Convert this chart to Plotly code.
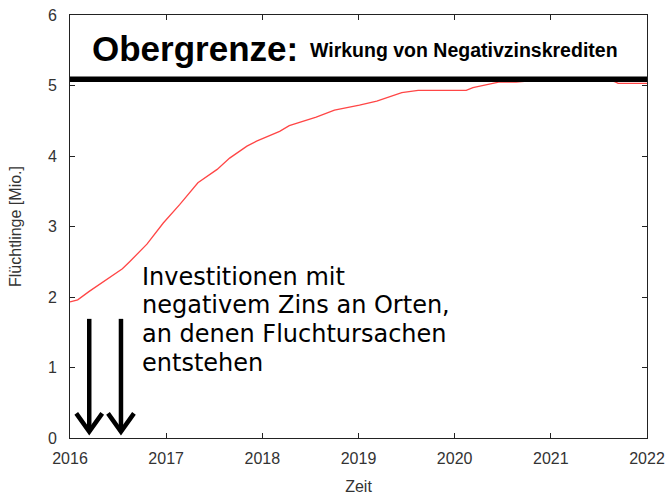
import plotly.graph_objects as go

# Red curve: refugees (millions) over time
years = [2016.0, 2016.08, 2016.2, 2016.35, 2016.545, 2016.62, 2016.80, 2016.97, 2017.14,
         2017.33, 2017.53, 2017.66, 2017.84, 2017.94, 2018.18, 2018.28, 2018.56, 2018.75,
         2019.01, 2019.19, 2019.36, 2019.45, 2019.62, 2019.9, 2020.12, 2020.19, 2020.47, 2020.64,
         2020.9, 2021.3, 2021.6, 2021.67, 2021.70, 2022.0]
refugees = [1.93, 1.96, 2.08, 2.22, 2.40, 2.50, 2.75, 3.05, 3.31,
            3.62, 3.81, 3.97, 4.14, 4.21, 4.35, 4.43, 4.55, 4.65,
            4.72, 4.78, 4.86, 4.90, 4.93, 4.93, 4.93, 4.97, 5.05, 5.05,
            5.08, 5.08, 5.08, 5.05, 5.03, 5.03]

# Upper limit line
limit_x = [2016, 2022]
limit_y = [5.09, 5.09]

# Arrows: x positions, top and tip values
arrow_x = [2016.20, 2016.53]
arrow_top = 1.69
arrow_tip = 0.09
arm_dx = 0.135
arm_dy = 0.26

x_ticks = [2016, 2017, 2018, 2019, 2020, 2021, 2022]
y_ticks = [0, 1, 2, 3, 4, 5, 6]

title_big = "Obergrenze:"
title_small = "Wirkung von Negativzinskrediten"
note_lines = ["Investitionen mit", "negativem Zins an Orten,", "an denen Fluchtursachen", "entstehen"]
note_y = [2.29, 1.88, 1.47, 1.06]

fig = go.Figure()
fig.add_trace(go.Scatter(x=years, y=refugees, mode="lines",
                         line=dict(color="rgb(255,70,70)", width=1.3), hoverinfo="skip"))
fig.add_trace(go.Scatter(x=limit_x, y=limit_y, mode="lines",
                         line=dict(color="black", width=5.5), hoverinfo="skip"))

ax, ay = [], []
for xv in arrow_x:
    ax += [xv, xv, None, xv - arm_dx, xv, xv + arm_dx, None]
    ay += [arrow_top, arrow_tip, None, arrow_tip + arm_dy, arrow_tip, arrow_tip + arm_dy, None]
fig.add_trace(go.Scatter(x=ax, y=ay, mode="lines",
                         line=dict(color="black", width=4.5), hoverinfo="skip"))

fig.add_annotation(x=2016.21, y=5.52, xref="x", yref="y", text=title_big, showarrow=False,
                   xanchor="left", yanchor="middle",
                   font=dict(family="Liberation Sans", size=35, color="black", weight="bold"))
fig.add_annotation(x=2018.48, y=5.5, xref="x", yref="y", text=title_small, showarrow=False,
                   xanchor="left", yanchor="middle",
                   font=dict(family="Liberation Sans", size=19.5, color="black", weight="bold"))

for txt, yv in zip(note_lines, note_y):
    fig.add_annotation(x=2016.73, y=yv, xref="x", yref="y", text=txt, showarrow=False,
                       xanchor="left", yanchor="middle",
                       font=dict(family="DejaVu Sans", size=24, color="black"))

axis_common = dict(showline=True, linecolor="#222", linewidth=1, mirror="ticks",
                   ticks="inside", ticklen=5, tickcolor="#222", showgrid=False, zeroline=False,
                   automargin=False, ticklabeloverflow="allow",
                   tickfont=dict(family="Liberation Sans", size=16, color="#333"))

fig.update_xaxes(range=[2016, 2022], tickvals=x_ticks, ticktext=[str(v) for v in x_ticks],
                 title=dict(text="Zeit", font=dict(family="Liberation Sans", size=16, color="#333"), standoff=19),
                 ticklabelstandoff=6, **axis_common)
fig.update_yaxes(range=[0, 6], tickvals=y_ticks,
                 title=dict(text="Flüchtlinge [Mio.]", font=dict(family="Liberation Sans", size=16, color="#333"), standoff=22),
                 ticklabelstandoff=9, **axis_common)

fig.update_layout(width=666, height=495, margin=dict(l=70, r=19, t=15, b=57),
                  plot_bgcolor="white", paper_bgcolor="white", showlegend=False)

# remove the page's default body margin so the 666x495 figure fills the window exactly
fig.write_html("out.html", config={"displayModeBar": False},
               post_script="document.body.style.margin='0';document.body.style.overflow='hidden';")
